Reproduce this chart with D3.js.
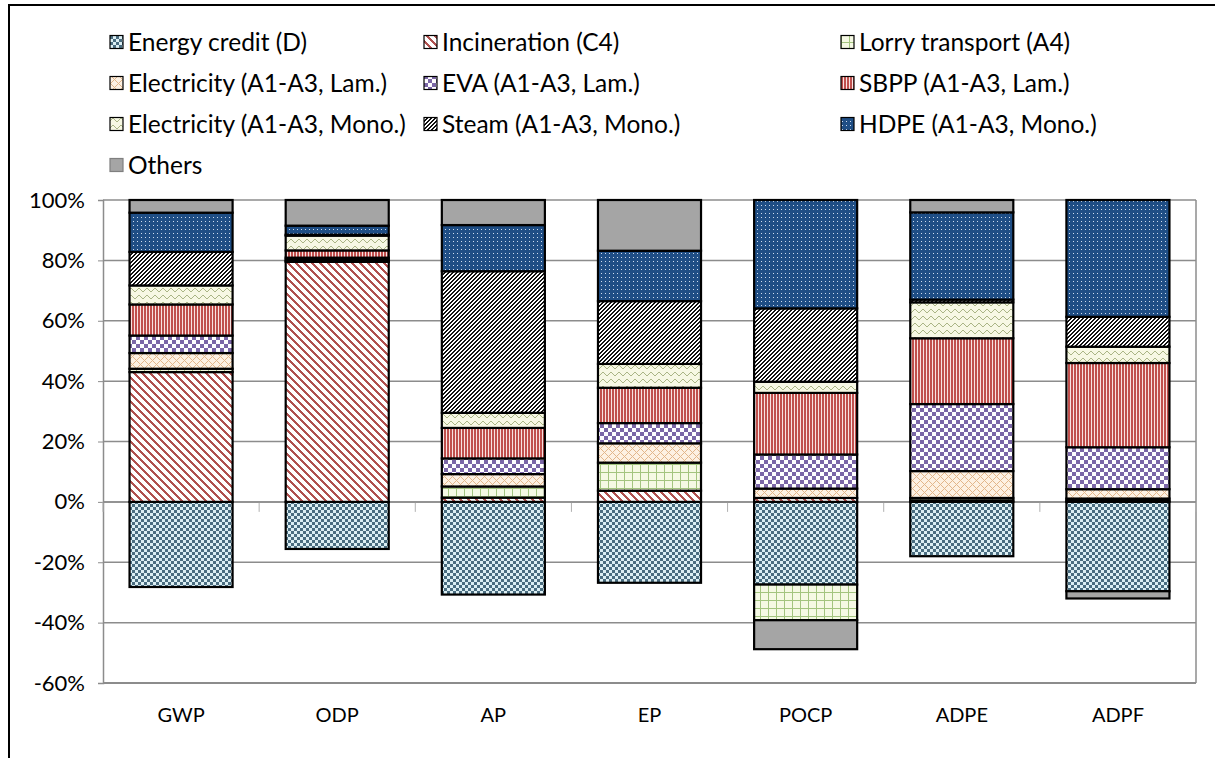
<!DOCTYPE html>
<html>
<head>
<meta charset="utf-8">
<script src="https://cdn.jsdelivr.net/npm/d3@7"></script>
<style>
  html, body { margin: 0; padding: 0; background: #fff; }
  svg { display: block; }
  text { font-family: Lato, "Open Sans", sans-serif; fill: #000; }
</style>
</head>
<body>
<svg id="chart" width="1215" height="758"></svg>
<script>
// ---------- DATA ----------
const categories = ["GWP", "ODP", "AP", "EP", "POCP", "ADPE", "ADPF"];
const seriesNames = [
  "Energy credit (D)", "Incineration (C4)", "Lorry transport (A4)",
  "Electricity (A1-A3, Lam.)", "EVA (A1-A3, Lam.)", "SBPP (A1-A3, Lam.)",
  "Electricity (A1-A3, Mono.)", "Steam (A1-A3, Mono.)", "HDPE (A1-A3, Mono.)",
  "Others"
];
const energyCredit = [-28.2, -15.6, -30.7, -26.8, -27.4, -18.0, -29.6];
const incineration = [43.0, 79.5, 1.4, 3.7, 1.3, 0.5, 0.4];
const lorryTransport = [1.1, 0.3, 3.7, 9.3, -11.8, 0.8, 0.7];
const electricityLam = [5.2, 0.5, 4.1, 6.4, 3.1, 8.9, 3.1];
const evaLam = [5.8, 0.6, 5.2, 6.7, 11.3, 22.2, 13.9];
const sbppLam = [10.3, 2.4, 10.1, 11.7, 20.4, 21.8, 27.9];
const electricityMono = [6.3, 4.9, 5.0, 7.9, 3.7, 11.9, 5.4];
const steamMono = [11.1, 0.3, 46.9, 20.8, 24.3, 0.9, 9.9];
const hdpeMono = [13.0, 3.0, 15.3, 16.7, 35.9, 28.9, 38.7];
const others = [4.2, 8.5, 8.3, 16.8, -9.6, 4.1, -2.4];
const yTicks = [-60, -40, -20, 0, 20, 40, 60, 80, 100];

const seriesValues = [energyCredit, incineration, lorryTransport, electricityLam,
  evaLam, sbppLam, electricityMono, steamMono, hdpeMono, others];

// ---------- SETUP ----------
const svg = d3.select("#chart");
const defs = svg.append("defs");

function pixelPattern(id, w, h, bg, fg, fn) {
  const p = defs.append("pattern").attr("id", id)
    .attr("patternUnits", "userSpaceOnUse").attr("width", w).attr("height", h);
  p.append("rect").attr("width", w).attr("height", h).attr("fill", bg);
  for (let yy = 0; yy < h; yy++) for (let xx = 0; xx < w; xx++) {
    if (fn(xx, yy)) p.append("rect").attr("x", xx).attr("y", yy).attr("width", 1).attr("height", 1)
      .attr("fill", fg).attr("shape-rendering", "crispEdges");
  }
}
const mod = (a, n) => ((a % n) + n) % n;
pixelPattern("p0", 6, 6, "#dceff4", "#4a6d80", (a, b) => (Math.floor(a / 3) + Math.floor(b / 3)) % 2 === 0);
pixelPattern("p1", 8, 8, "#ffffff", "#b0514f", (a, b) => mod(a - b, 8) < 3);
pixelPattern("p2", 8, 8, "#f5f9e4", "#a3c47f", (a, b) => a === 0 || b === 0);
pixelPattern("p3", 8, 8, "#fdf1e3", "#e2b68b", (a, b) => mod(a - b, 8) === 0 || mod(a + b, 8) === 0);
pixelPattern("p4", 8, 8, "#ffffff", "#7b67a7", (a, b) => (Math.floor(a / 4) + Math.floor(b / 4)) % 2 === 0);
pixelPattern("p5", 3, 1, "#f8e2e1", "#c0504d", (a, b) => a < 2);
const waveY = [4, 3, 2, 2, 3, 4, 5, 5];
pixelPattern("p6", 8, 7, "#f7f8e4", "#aab585", (a, b) => b === waveY[a] - 1);
pixelPattern("p7", 4, 4, "#ffffff", "#111111", (a, b) => mod(a + b, 4) < 2);
pixelPattern("p8", 4, 4, "#1f4e85", "#cfdcee", (a, b) => a === 1 && b === 1);
pixelPattern("p9", 2, 2, "#a5a5a5", "#a5a5a5", () => false);

const fills = seriesNames.map((d, i) => `url(#p${i})`);

// outer frame (left and top visible)
svg.append("path").attr("d", "M9,770 L9,5 L1230,5").attr("fill", "none")
  .attr("stroke", "#000").attr("stroke-width", 2);

// ---------- SCALES ----------
const x = d3.scaleBand().domain(categories).range([103, 1196])
  .paddingInner(0.34).paddingOuter(0.17);
const y = d3.scaleLinear().domain([-60, 100]).range([683, 200]);

// gridlines
svg.append("g").selectAll("line").data(yTicks).join("line")
  .attr("x1", 103).attr("x2", 1196)
  .attr("y1", d => y(d)).attr("y2", d => y(d))
  .attr("stroke", "#8c8c8c").attr("stroke-width", d => d === -60 ? 2 : 1.5);

// right plot border
svg.append("line").attr("x1", 1196).attr("x2", 1196).attr("y1", y(100)).attr("y2", y(-60))
  .attr("stroke", "#8c8c8c").attr("stroke-width", 1.5);

// y axis
const yAxis = d3.axisLeft(y).tickValues(yTicks).tickFormat(d => d + "%").tickSize(5).tickPadding(13);
const gy = svg.append("g").attr("transform", "translate(103,0)").call(yAxis);
gy.select(".domain").attr("stroke", "#8c8c8c").attr("stroke-width", 1.5);
gy.selectAll(".tick line").attr("stroke", "#8c8c8c");
gy.selectAll(".tick text").style("font-size", "22px").style("font-family", "Lato, sans-serif").attr("fill", "#000");

// x axis at zero with ticks between categories
const step = x.step();
const boundaries = d3.range(0, categories.length + 1).map(i => x.range()[0] + i * step);
svg.append("g").selectAll("line").data(boundaries).join("line")
  .attr("x1", d => d).attr("x2", d => d).attr("y1", y(0)).attr("y2", y(0) + 10)
  .attr("stroke", "#b0b0b0").attr("stroke-width", 1);
svg.append("line").attr("x1", 103).attr("x2", 1196).attr("y1", y(0)).attr("y2", y(0))
  .attr("stroke", "#8c8c8c").attr("stroke-width", 1.5);

// category labels
svg.append("g").selectAll("text").data(categories).join("text")
  .attr("x", d => x(d) + x.bandwidth() / 2).attr("y", 722)
  .attr("text-anchor", "middle").style("font-size", "20px").text(d => d);

// ---------- STACKED BARS ----------
const keys = seriesNames.map((d, i) => "s" + i);
const table = categories.map((c, j) => {
  const row = { cat: c };
  keys.forEach((k, i) => row[k] = seriesValues[i][j]);
  return row;
});
const stacked = d3.stack().keys(keys).offset(d3.stackOffsetDiverging)(table);

const gBars = svg.append("g");
stacked.forEach((layer, i) => {
  gBars.append("g").selectAll("rect").data(layer.filter(d => d[1] !== d[0])).join("rect")
    .attr("x", d => x(d.data.cat))
    .attr("width", x.bandwidth())
    .attr("y", d => y(Math.max(d[0], d[1])))
    .attr("height", d => Math.abs(y(d[0]) - y(d[1])))
    .attr("fill", fills[i])
    .attr("stroke", "#000").attr("stroke-width", 2.2);
});

// ---------- LEGEND ----------
const legendCols = [110, 424, 841];
const legendRows = [42, 83, 124, 165];
const lg = svg.append("g");
seriesNames.forEach((name, i) => {
  const col = i % 3, row = Math.floor(i / 3);
  const g = lg.append("g").attr("transform", `translate(${legendCols[col]},${legendRows[row]})`);
  g.append("rect").attr("x", 0).attr("y", -6.5).attr("width", 13).attr("height", 13)
    .attr("fill", fills[i]).attr("stroke", i === 9 ? "#7f7f7f" : "#000").attr("stroke-width", 1.2);
  g.append("text").attr("x", 18).attr("y", 0).attr("dy", "0.35em")
    .style("font-size", "24.5px").text(name);
});
</script>
</body>
</html>
